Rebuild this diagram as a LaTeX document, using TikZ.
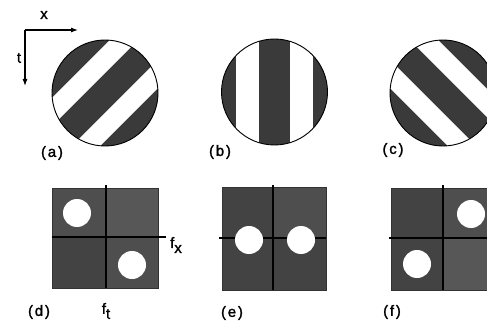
\documentclass[tikz,border=0pt]{standalone}
\usepackage{fontspec}
\setmainfont{Liberation Sans}
\usetikzlibrary{arrows.meta}
\definecolor{stripe}{HTML}{3A3A3A}
\definecolor{qa}{HTML}{4E4E4E}
\definecolor{qb}{HTML}{575757}
\definecolor{qc}{HTML}{434343}
\tikzset{
  lbl/.style={font=\fontsize{15}{17}\selectfont\addfontfeatures{LetterSpace=12,FakeBold=1.5}, inner sep=0pt},
  axis/.style={line width=1.1pt, -{Latex[length=7pt,width=5pt]}},
  outline/.style={line width=0.9pt},
  sqline/.style={line width=0.6pt, draw=black!80},
  midline/.style={line width=1.3pt},
  blob/.style={fill=white},
}
% #1,#2 centre, #3 rotation, #4 inner offset, #5 outer offset
\newcommand{\gratcircle}[5]{%
  \begin{scope}[shift={(#1,#2)}, rotate=#3]
    \fill[stripe] (0,0) circle (53);
    \begin{scope}
      \clip (0,0) circle (53);
      \fill[white] (#4,-60) rectangle (#5,60);
      \fill[white] (-#5,-60) rectangle (-#4,60);
    \end{scope}
    \draw[outline] (0,0) circle (53);
  \end{scope}}
\begin{document}
\begin{tikzpicture}[x=1pt,y=-1pt]
\useasboundingbox (0,0) rectangle (487,326);
\clip (0,0) rectangle (487,326);
\fill[white] (0,0) rectangle (487,326);
% axes
\coordinate (o) at (25,30);
\coordinate (xe) at (78,30);
\coordinate (te) at (25,86);
\draw[axis] (o) -- (xe);
\draw[axis] (o) -- (te);
\node[lbl] (xl) at (44,15) {x};
\node[lbl] (tl) at (19,58) {t};
% circles
\gratcircle{105}{93}{-45}{14}{34}
\gratcircle{274.5}{92}{0}{15.5}{38.5}
\gratcircle{443}{93}{45}{14}{34}
\node[lbl] (la) at (52,153) {(a)};
\node[lbl] (lb) at (220,152) {(b)};
\node[lbl] (lc) at (393,150) {(c)};
% square d
\fill[qa] (52,188) rectangle (106,237);
\fill[qb] (106,188) rectangle (158,237);
\fill[qc] (52,237) rectangle (106,288);
\fill[qa] (106,237) rectangle (158,288);
\draw[sqline] (52,188) rectangle (158,288);
\draw[midline] (106,185) -- (106,288);
\draw[midline] (52,237) -- (166,237);
\fill[blob] (77,213) circle (14);
\fill[blob] (132,265) circle (14);
\node[lbl] (fx) at (176,245) {f\raisebox{-5pt}{x}};
\node[lbl] (ft) at (106,311) {f\raisebox{-5pt}{t}};
\node[lbl] (ld) at (39,312) {(d)};
% square e
\fill[qc] (222,187) rectangle (273,238);
\fill[qa] (273,187) rectangle (326,238);
\fill[qc] (222,238) rectangle (273,290);
\fill[qc] (273,238) rectangle (326,290);
\draw[sqline] (222,187) rectangle (326,290);
\draw[midline] (273,185) -- (273,290);
\draw[midline] (219,238) -- (326,238);
\fill[blob] (249,240) circle (14);
\fill[blob] (301,240) circle (14);
\node[lbl] (le) at (232,313) {(e)};
% square f
\fill[qc] (391,188) rectangle (443,238);
\fill[qa] (443,188) rectangle (495,238);
\fill[qc] (391,238) rectangle (443,290);
\fill[qb] (443,238) rectangle (495,290);
\draw[sqline] (391,188) rectangle (495,290);
\draw[midline] (443,185) -- (443,290);
\draw[midline] (389,238) -- (495,238);
\fill[blob] (471,214) circle (14);
\fill[blob] (417,264) circle (14);
\node[lbl] (lf) at (392,312) {(f)};
\end{tikzpicture}
\end{document}
